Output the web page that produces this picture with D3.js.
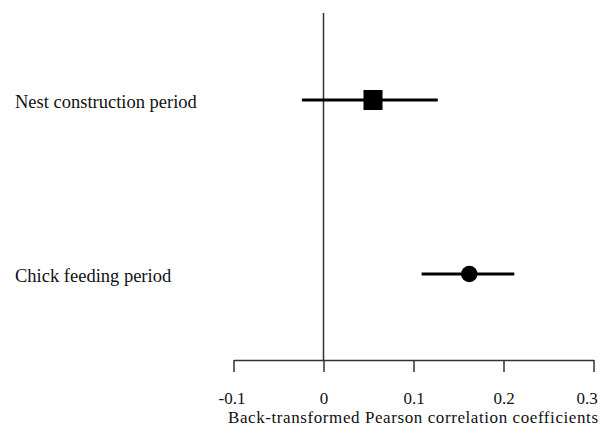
<!DOCTYPE html>
<html><head><meta charset="utf-8">
<script src="https://cdn.jsdelivr.net/npm/d3@7"></script>
<style>body{margin:0;background:#fff}</style>
</head><body>
<svg id="c" width="605" height="428"></svg>
<script>
const categories = ["Nest construction period", "Chick feeding period"];
const estimates = [0.055, 0.162];
const lower = [-0.024, 0.109];
const upper = [0.127, 0.212];
const shapes = ["square", "circle"];
const tickValues = [-0.1, 0, 0.1, 0.2, 0.3];
const tickLabels = ["-0.1", "0", "0.1", "0.2", "0.3"];
const xTitle = "Back-transformed Pearson correlation coefficients";

const svg = d3.select("#c");
const font = "'Liberation Serif','Times New Roman',serif";
const fs = 18.5;
const x = d3.scaleLinear().domain([-0.1, 0.3]).range([233.5, 593.5]);
const y = d3.scalePoint().domain(categories).range([100, 274]);

// zero line
svg.append("line").attr("x1", x(0)).attr("x2", x(0)).attr("y1", 13).attr("y2", 360)
  .attr("stroke", "#333").attr("stroke-width", 1.5);

// axis
const ax = svg.append("g").attr("transform", "translate(0,360)")
  .call(d3.axisBottom(x).tickValues(tickValues).tickFormat((d, i) => tickLabels[i]).tickSize(12).tickSizeOuter(0).tickPadding(20));
ax.select(".domain").attr("stroke", "#333").attr("stroke-width", 1.5);
ax.selectAll(".tick line").attr("stroke", "#333").attr("stroke-width", 1.5);
ax.selectAll(".tick text").attr("font-family", font).attr("font-size", 17).attr("fill", "#111");
ax.selectAll(".tick text").filter((d) => d === 0.3).attr("dx", -7);
ax.selectAll(".tick text").filter((d) => d === -0.1).attr("dx", -2);

svg.append("text").attr("x", 413).attr("y", 423).attr("text-anchor", "middle")
  .attr("font-family", font).attr("font-size", 17).attr("textLength", 370).attr("lengthAdjust", "spacing")
  .attr("fill", "#111").text(xTitle);

// category labels
svg.selectAll("text.cat").data(categories).join("text").attr("class", "cat")
  .attr("x", 15).attr("y", d => y(d) + 8).attr("font-family", font).attr("font-size", fs)
  .attr("fill", "#111").text(d => d);

// error bars
svg.selectAll("line.err").data(categories).join("line").attr("class", "err")
  .attr("x1", (d, i) => x(lower[i])).attr("x2", (d, i) => x(upper[i]))
  .attr("y1", d => y(d)).attr("y2", d => y(d)).attr("stroke", "#000").attr("stroke-width", 3);

// points
categories.forEach((c, i) => {
  if (shapes[i] === "square") {
    svg.append("rect").attr("x", x(estimates[i]) - 9.5).attr("y", y(c) - 10).attr("width", 19).attr("height", 20).attr("fill", "#000");
  } else {
    svg.append("circle").attr("cx", x(estimates[i])).attr("cy", y(c)).attr("r", 8.3).attr("fill", "#000");
  }
});
</script>
</body></html>
